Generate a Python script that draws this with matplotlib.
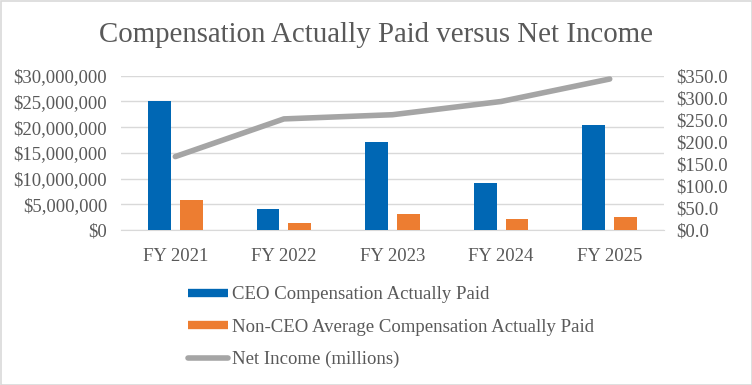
import matplotlib
matplotlib.use("Agg")
import matplotlib.pyplot as plt
from matplotlib.lines import Line2D
from matplotlib.ticker import FuncFormatter, MultipleLocator
import numpy as np

categories = ["FY 2021", "FY 2022", "FY 2023", "FY 2024", "FY 2025"]
ceo_cap = [25000000, 4100000, 17200000, 9200000, 20450000]
non_ceo_cap = [5850000, 1420000, 3200000, 2080000, 2470000]
net_income = [166.5, 252.0, 261.5, 291.5, 342.5]

blue = "#0067B4"
orange = "#ED7D31"
gray = "#A5A5A5"
txt = "#595959"
font = "Liberation Serif"

fig = plt.figure(figsize=(7.52, 3.85), dpi=100)
ax = fig.add_axes([121/752, 1-230/385, (664-121)/752, (230-75.7)/385])
ax2 = ax.twinx()

x = np.arange(len(categories))
w = 0.21
off = 0.147
ax.bar(x - off, ceo_cap, w, color=blue, zorder=3)
ax.bar(x + off, non_ceo_cap, w, color=orange, zorder=3)
ax2.plot(x, net_income, color=gray, lw=4, solid_capstyle="round", zorder=4)

ax.set_xlim(-0.5, len(categories) - 0.5)
ax.set_ylim(0, 30000000)
ax2.set_ylim(0, 350)
ax.yaxis.set_major_locator(MultipleLocator(5000000))
ax2.yaxis.set_major_locator(MultipleLocator(50))
ax.yaxis.set_major_formatter(FuncFormatter(lambda v, p: "${:,.0f}".format(v)))
ax2.yaxis.set_major_formatter(FuncFormatter(lambda v, p: "${:,.1f}".format(v)))
ax.set_xticks(x)
ax.set_xticklabels(categories)

ax.grid(axis="y", color="#D9D9D9", lw=1, zorder=0)
for a in (ax, ax2):
    for s in a.spines.values():
        s.set_visible(False)
    a.tick_params(length=0, labelsize=13.5, labelcolor=txt)
    for lab in a.get_xticklabels() + a.get_yticklabels():
        lab.set_fontfamily(font)
ax.spines["bottom"].set_visible(True)
ax.spines["bottom"].set_color("#D9D9D9")
ax.tick_params(axis="x", pad=13)
ax.tick_params(axis="y", pad=10)
ax2.tick_params(axis="y", pad=9)

fig.text(0.5, 1 - 35/385, "Compensation Actually Paid versus Net Income",
         ha="center", va="center", fontsize=20.8, color=txt, family=font)

handles = [Line2D([], [], color=blue, lw=6, solid_capstyle="butt"),
           Line2D([], [], color=orange, lw=6, solid_capstyle="butt"),
           Line2D([], [], color=gray, lw=4, solid_capstyle="round")]
labels = ["CEO Compensation Actually Paid",
          "Non-CEO Average Compensation Actually Paid",
          "Net Income (millions)"]
leg = fig.legend(handles, labels, loc="upper left",
                 bbox_to_anchor=(188/752, 1 - 286/385), frameon=False,
                 prop={"family": font, "size": 13.5}, labelcolor=txt,
                 handlelength=2.15, handletextpad=0.2, labelspacing=0.82,
                 borderaxespad=0, borderpad=0)

fig.patches.append(plt.Rectangle((0.5/752, 0.5/385), 1-1/752, 1-1/385,
                                 transform=fig.transFigure, fill=False,
                                 edgecolor="#D9D9D9", lw=1.2))
fig.savefig("out.png", dpi=100)
